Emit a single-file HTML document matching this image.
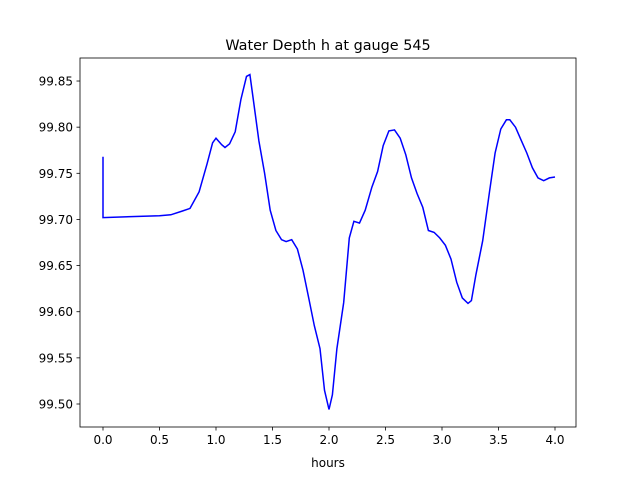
<!DOCTYPE html>
<html><head><meta charset="utf-8"><style>
body{margin:0;background:#fff;font-family:"Liberation Sans","DejaVu Sans",sans-serif;}
svg text{font-family:"DejaVu Sans","Liberation Sans",sans-serif;}
</style></head><body>
<svg id="chart" width="640" height="480" xmlns="http://www.w3.org/2000/svg">
<rect width="640" height="480" fill="#fff"/>
<text x="328" y="50" font-size="14.4" text-anchor="middle">Water Depth h at gauge 545</text>
<text x="328" y="467" font-size="12" text-anchor="middle">hours</text>
<g id="xticks"></g>
<g id="yticks"></g>
<path id="line" fill="none" stroke="#0000ff" stroke-width="1.5"/>
<rect x="80" y="58" width="496" height="369" fill="none" stroke="#000" stroke-width="0.8"/>
</svg>
<script>
const hours=[0,0,0.5,0.6,0.7,0.77,0.85,0.92,0.97,1.0,1.05,1.08,1.12,1.17,1.22,1.27,1.30,1.33,1.38,1.43,1.48,1.53,1.58,1.62,1.67,1.72,1.77,1.82,1.87,1.92,1.96,2.0,2.03,2.07,2.13,2.18,2.22,2.27,2.32,2.38,2.43,2.48,2.53,2.58,2.63,2.68,2.73,2.78,2.83,2.88,2.93,2.98,3.03,3.08,3.13,3.18,3.23,3.26,3.3,3.36,3.42,3.47,3.52,3.57,3.6,3.65,3.7,3.75,3.8,3.85,3.9,3.95,4.0];
const depth=[99.768,99.702,99.704,99.705,99.709,99.712,99.73,99.76,99.783,99.788,99.781,99.778,99.782,99.795,99.83,99.855,99.857,99.83,99.785,99.75,99.71,99.688,99.678,99.676,99.678,99.668,99.645,99.615,99.585,99.56,99.515,99.494,99.51,99.56,99.61,99.68,99.698,99.696,99.71,99.735,99.752,99.78,99.796,99.797,99.788,99.77,99.745,99.728,99.713,99.688,99.686,99.68,99.672,99.657,99.632,99.615,99.609,99.612,99.64,99.677,99.73,99.772,99.798,99.808,99.808,99.8,99.786,99.772,99.756,99.745,99.742,99.745,99.746];
const xTicks=[0,0.5,1,1.5,2,2.5,3,3.5,4];
const xTickLabels=["0.0","0.5","1.0","1.5","2.0","2.5","3.0","3.5","4.0"];
const yTicks=[99.50,99.55,99.60,99.65,99.70,99.75,99.80,99.85];
const yTickLabels=["99.50","99.55","99.60","99.65","99.70","99.75","99.80","99.85"];
const X=v=>103+v*113;
const Y=v=>404-(v-99.5)/0.05*46.14;
const NS="http://www.w3.org/2000/svg";
function mk(t,a,p){const e=document.createElementNS(NS,t);for(const k in a)e.setAttribute(k,a[k]);p.appendChild(e);return e;}
const xg=document.getElementById('xticks'),yg=document.getElementById('yticks');
xTicks.forEach((v,i)=>{
 const l=mk('line',{x1:X(v),x2:X(v),y1:427,y2:430.5,stroke:'#000','stroke-width':0.8},xg);
 
 
 const t=mk('text',{x:X(v),y:444,'font-size':12,'text-anchor':'middle'},xg);
 
 
 t.textContent=xTickLabels[i];
});
yTicks.forEach((v,i)=>{
 const l=mk('line',{x1:76.5,x2:80,y1:Y(v),y2:Y(v),stroke:'#000','stroke-width':0.8},yg);
 
 
 const t=mk('text',{x:73,y:Y(v)+4.5,'font-size':12,'text-anchor':'end'},yg);
 
 
 t.textContent=yTickLabels[i];
});
document.getElementById('line').setAttribute('d',hours.map((h,i)=>(i?'L':'M')+X(h).toFixed(1)+','+Y(depth[i]).toFixed(1)).join(''));
</script>
</body></html>
